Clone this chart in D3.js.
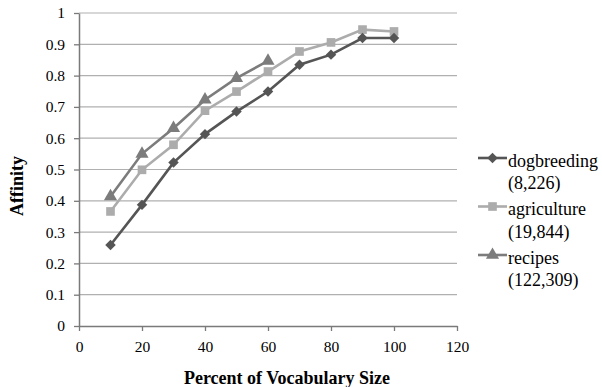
<!DOCTYPE html>
<html>
<head>
<meta charset="utf-8">
<script src="https://cdn.jsdelivr.net/npm/d3@7"></script>
<style>
  body { margin: 0; background: #fff; }
  svg text { font-family: "Liberation Serif", "Times New Roman", "DejaVu Serif", serif !important; fill: #000; }
  .tick text { font-size: 15.5px; }
</style>
</head>
<body>
<script>
// percentages on the x axis
var percent = [10, 20, 30, 40, 50, 60, 70, 80, 90, 100];

// affinity values per corpus
var dogbreeding = [0.259, 0.387, 0.522, 0.613, 0.685, 0.749, 0.835, 0.867, 0.920, 0.920];
var agriculture = [0.366, 0.499, 0.579, 0.688, 0.749, 0.813, 0.877, 0.906, 0.947, 0.941];
var recipes = [0.414, 0.550, 0.632, 0.723, 0.792, 0.847];

var seriesNames = ["dogbreeding", "agriculture", "recipes"];
var seriesSizes = ["(8,226)", "(19,844)", "(122,309)"];

var xTicks = [0, 20, 40, 60, 80, 100, 120];
var yTicks = [0, 0.1, 0.2, 0.3, 0.4, 0.5, 0.6, 0.7, 0.8, 0.9, 1];

var margin = {top: 13, left: 79},
    width = 378,
    height = 313;

var svg = d3.select("body").append("svg")
    .attr("width", 602)
    .attr("height", 387);

var g = svg.append("g")
    .attr("transform", "translate(" + margin.left + "," + margin.top + ")");

var x = d3.scaleLinear().domain([0, 120]).range([0, width]);
var y = d3.scaleLinear().domain([0, 1]).range([height, 0]);

// gridlijnen
g.append("g")
    .selectAll("line")
    .data(yTicks.slice(1))
    .join("line")
    .attr("x1", 0)
    .attr("x2", width)
    .attr("y1", function(d) { return y(d); })
    .attr("y2", function(d) { return y(d); })
    .attr("stroke", "#b0b0b0")
    .attr("stroke-width", 1.2);

// assen
var xAxis = g.append("g")
    .attr("transform", "translate(0," + height + ")")
    .call(d3.axisBottom(x).tickValues(xTicks).tickSize(5).tickSizeOuter(0).tickPadding(10)
        .tickFormat(d3.format("d")));

var yAxis = g.append("g")
    .call(d3.axisLeft(y).tickValues(yTicks).tickSize(5).tickSizeOuter(0).tickPadding(9)
        .tickFormat(function(d) { return d === 0 || d === 1 ? d : d3.format(".1f")(d); }));

[xAxis, yAxis].forEach(function(a) {
  a.attr("font-family", null).attr("font-size", null);
  a.select(".domain").attr("stroke", "#7a7a7a").attr("stroke-width", 1.5);
  a.selectAll(".tick line").attr("stroke", "#7a7a7a").attr("stroke-width", 1.3);
});

// series
var colors = ["#555555", "#acacac", "#7c7c7c"];
var symbols = [d3.symbolDiamond2, d3.symbolSquare, d3.symbolTriangle];
var symSizes = [70, 75, 75];
var allData = [dogbreeding, agriculture, recipes];

var line = d3.line()
    .x(function(d) { return x(d.p); })
    .y(function(d) { return y(d.v); });

// teken in volgorde zodat de donkerste lijn bovenop ligt
[2, 1, 0].forEach(function(i) {
  var pts = allData[i].map(function(v, j) { return {p: percent[j], v: v}; });
  g.append("path")
      .datum(pts)
      .attr("fill", "none")
      .attr("stroke", colors[i])
      .attr("stroke-width", 2.6)
      .attr("d", line);
  g.append("g")
      .selectAll("path")
      .data(pts)
      .join("path")
      .attr("transform", function(d) { return "translate(" + x(d.p) + "," + y(d.v) + ")"; })
      .attr("d", d3.symbol().type(symbols[i]).size(symSizes[i]))
      .attr("fill", colors[i]);
});

// as titels
svg.append("text")
    .attr("x", 287)
    .attr("y", 384)
    .attr("text-anchor", "middle")
    .attr("font-size", "18px")
    .attr("font-weight", "bold")
    .text("Percent of Vocabulary Size");

svg.append("text")
    .attr("transform", "translate(23,186) rotate(-90)")
    .attr("text-anchor", "middle")
    .attr("font-size", "18px")
    .attr("font-weight", "bold")
    .text("Affinity");

// legenda
var legend = svg.append("g");
seriesNames.forEach(function(name, i) {
  var ly = 158 + i * 48.5;
  legend.append("line")
      .attr("x1", 478).attr("x2", 507)
      .attr("y1", ly).attr("y2", ly)
      .attr("stroke", colors[i])
      .attr("stroke-width", 2.6);
  legend.append("path")
      .attr("transform", "translate(492.5," + ly + ")")
      .attr("d", d3.symbol().type(symbols[i]).size(symSizes[i]))
      .attr("fill", colors[i]);
  legend.append("text")
      .attr("x", 508)
      .attr("y", ly + 8.5)
      .attr("font-size", "18px")
      .text(name);
  legend.append("text")
      .attr("x", 508)
      .attr("y", ly + 31)
      .attr("font-size", "18px")
      .text(seriesSizes[i]);
});
</script>
</body>
</html>
